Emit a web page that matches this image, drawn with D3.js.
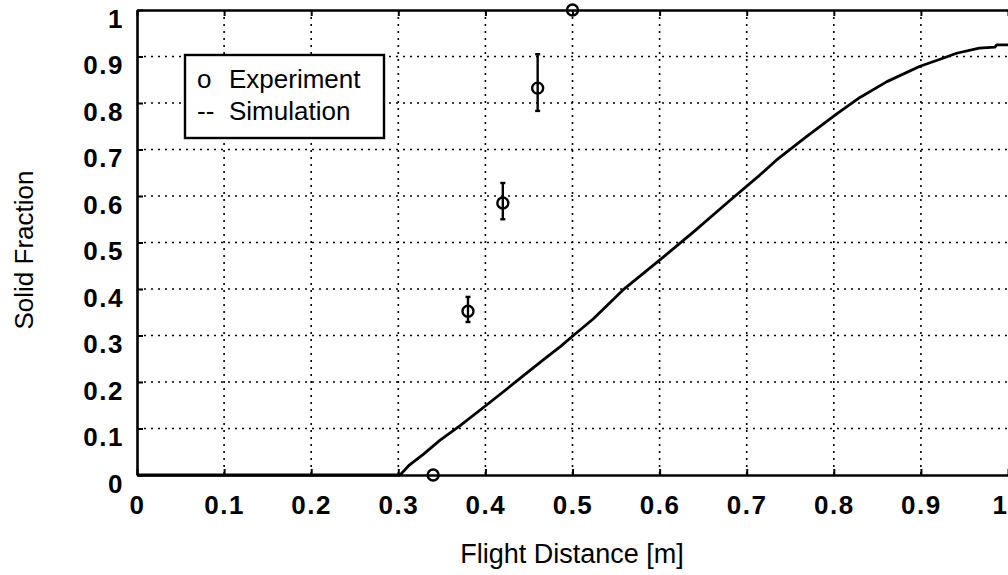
<!DOCTYPE html>
<html>
<head>
<meta charset="utf-8">
<script src="https://cdn.jsdelivr.net/npm/d3@7"></script>
<style>
  html, body { margin: 0; padding: 0; background: #fff; }
  svg { display: block; }
  text { font-family: "Liberation Sans", Arial, Helvetica, sans-serif; fill: #000; }
</style>
</head>
<body>
<svg id="chart" width="1008" height="575"></svg>
<script>
// Tick values for both axes
const xTicks = [0, 0.1, 0.2, 0.3, 0.4, 0.5, 0.6, 0.7, 0.8, 0.9, 1];
const yTicks = [0, 0.1, 0.2, 0.3, 0.4, 0.5, 0.6, 0.7, 0.8, 0.9, 1];

// Experimental measurements with error bar limits
const expX    = [0.34, 0.38, 0.42, 0.46, 0.50];
const expY    = [0.00, 0.352, 0.585, 0.832, 1.00];
const expLow  = [null, 0.329, 0.550, 0.783, null];
const expHigh = [null, 0.383, 0.628, 0.905, null];

// Simulated solid fraction along the flight path
const simX = [0, 0.302, 0.313, 0.329, 0.348, 0.371, 0.401, 0.434, 0.466, 0.486, 0.501, 0.524, 0.558, 0.600,
              0.639, 0.681, 0.715, 0.734, 0.769, 0.803, 0.830, 0.861, 0.899, 0.922, 0.941, 0.967, 0.985, 0.987, 1.0];
const simY = [0, 0, 0.022, 0.045, 0.075, 0.106, 0.150, 0.199, 0.247, 0.276, 0.300, 0.336, 0.398, 0.462,
              0.523, 0.591, 0.645, 0.677, 0.728, 0.776, 0.812, 0.846, 0.879, 0.894, 0.907, 0.918, 0.920, 0.925, 0.925];

const legendLabels = ["Experiment", "Simulation"];
const legendSymbols = ["o", "--"];

const svg = d3.select("#chart");
const plotL = 137, plotR = 1008, plotT = 10, plotB = 475;

const x = d3.scaleLinear().domain([0, 1]).range([plotL, plotR]);
const y = d3.scaleLinear().domain([0, 1]).range([plotB, plotT]);

// Dotted grid
const grid = svg.append("g")
  .attr("stroke", "#000").attr("stroke-width", 1.6).attr("stroke-dasharray", "2,5");
grid.selectAll("line.gx").data(xTicks.filter(d => d > 0 && d < 1)).join("line")
  .attr("class", "gx")
  .attr("x1", d => x(d)).attr("x2", d => x(d)).attr("y1", plotT).attr("y2", plotB);
grid.selectAll("line.gy").data(yTicks.filter(d => d > 0 && d < 1)).join("line")
  .attr("class", "gy")
  .attr("x1", plotL).attr("x2", plotR).attr("y1", d => y(d)).attr("y2", d => y(d));

// Axes with inward ticks
const xAxis = d3.axisBottom(x).tickValues(xTicks).tickSizeInner(-6).tickSizeOuter(0).tickFormat(d3.format("~g"));
const yAxis = d3.axisLeft(y).tickValues(yTicks).tickSizeInner(-6).tickSizeOuter(0).tickFormat(d3.format("~g"));
const xTop = d3.axisTop(x).tickValues(xTicks).tickSizeInner(-6).tickSizeOuter(0).tickFormat("");

const gx = svg.append("g").attr("transform", `translate(0,${plotB})`).call(xAxis);
const gy = svg.append("g").attr("transform", `translate(${plotL},0)`).call(yAxis);
const gt = svg.append("g").attr("transform", `translate(0,${plotT})`).call(xTop);

[gx, gy, gt].forEach(g => {
  g.select(".domain").attr("stroke", "#000").attr("stroke-width", 2.6);
  g.selectAll(".tick line").attr("stroke", "#000").attr("stroke-width", 2);
});

gx.selectAll(".tick text")
  .attr("y", 0).attr("dy", 0)
  .attr("transform", "translate(0,39)")
  .style("font-size", "26px").style("font-weight", "bold").style("letter-spacing", "1.5px")
  .attr("fill", "#000")
  .attr("text-anchor", d => d === 1 ? "end" : "middle");

gy.selectAll(".tick text")
  .attr("x", -13).attr("dy", 0).attr("y", 17)
  .style("font-size", "26px").style("font-weight", "bold").style("letter-spacing", "1.5px")
  .attr("fill", "#000").attr("text-anchor", "end");

// Simulation curve
const line = d3.line().x((d, i) => x(simX[i])).y((d, i) => y(simY[i]));
svg.append("path")
  .datum(simY)
  .attr("d", line)
  .attr("fill", "none").attr("stroke", "#000").attr("stroke-width", 2.8)
  .attr("stroke-linejoin", "round");

// Error bars
const eb = svg.append("g").attr("stroke", "#000").attr("stroke-width", 2.4);
expX.forEach((v, i) => {
  if (expLow[i] == null) return;
  eb.append("line").attr("x1", x(v)).attr("x2", x(v)).attr("y1", y(expLow[i])).attr("y2", y(expHigh[i]));
  eb.append("line").attr("x1", x(v) - 2.5).attr("x2", x(v) + 2.5).attr("y1", y(expLow[i])).attr("y2", y(expLow[i]));
  eb.append("line").attr("x1", x(v) - 2.5).attr("x2", x(v) + 2.5).attr("y1", y(expHigh[i])).attr("y2", y(expHigh[i]));
});

// Experiment markers
svg.append("g").selectAll("circle").data(expY).join("circle")
  .attr("cx", (d, i) => x(expX[i])).attr("cy", d => y(d)).attr("r", 5.5)
  .attr("fill", "none").attr("stroke", "#000").attr("stroke-width", 2.4);

// Legend
const lg = svg.append("g");
lg.append("rect").attr("x", 185).attr("y", 55).attr("width", 199).attr("height", 83)
  .attr("fill", "#fff").attr("stroke", "#000").attr("stroke-width", 2.4);
legendSymbols.forEach((s, i) => {
  lg.append("text").attr("x", 197).attr("y", 88 + i * 32).text(s).style("font-size", "26px");
  lg.append("text").attr("x", 229).attr("y", 88 + i * 32).text(legendLabels[i]).style("font-size", "26px");
});

// Axis titles
svg.append("text").attr("x", 572).attr("y", 563).attr("text-anchor", "middle")
  .style("font-size", "27px").text("Flight Distance [m]");
svg.append("text").attr("transform", "translate(33,250) rotate(-90)").attr("text-anchor", "middle")
  .style("font-size", "26px").text("Solid Fraction");
</script>
</body>
</html>
